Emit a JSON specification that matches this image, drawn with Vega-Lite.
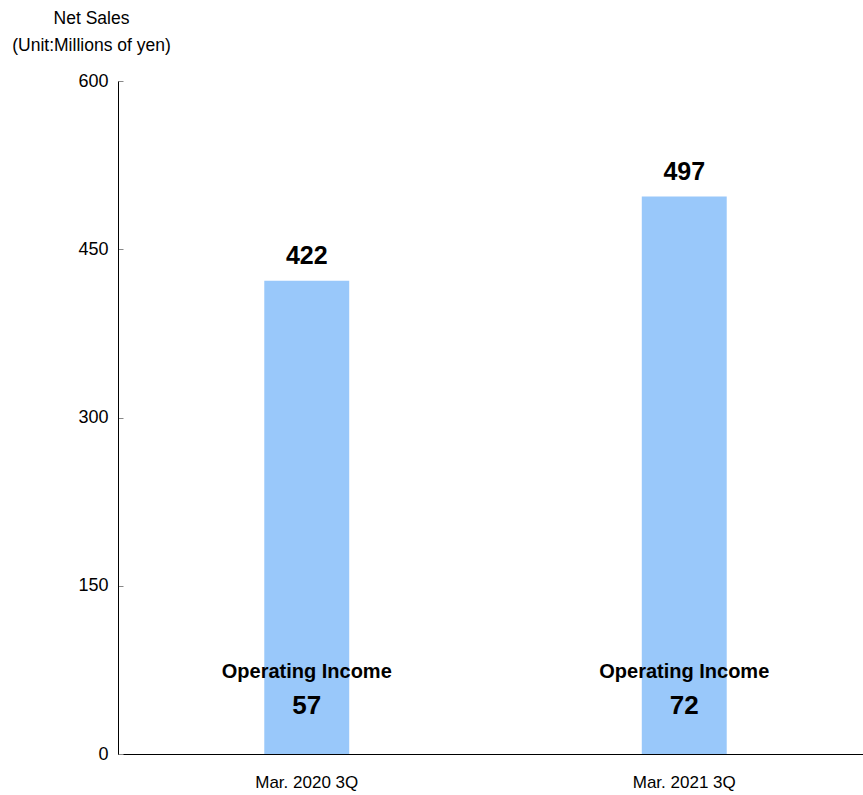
{
  "$schema": "https://vega.github.io/schema/vega-lite/v6.json",
  "width": 745,
  "height": 673,
  "autosize": {"type": "none"},
  "padding": {"left": 118, "top": 81, "right": 0, "bottom": 41},
  "background": "white",
  "config": {
    "font": "Liberation Sans, Arial, sans-serif",
    "view": {"stroke": null}
  },
  "data": {
    "values": [
      {"period": "Mar. 2020 3Q", "sales": 422, "opIncome": 57},
      {"period": "Mar. 2021 3Q", "sales": 497, "opIncome": 72}
    ]
  },
  "encoding": {
    "x": {
      "field": "period",
      "type": "nominal",
      "sort": null,
      "scale": {"range": [0, 755], "paddingInner": 0.775, "paddingOuter": 0.3875},
      "axis": {
        "title": null,
        "labelAngle": 0,
        "ticks": false,
        "domainColor": "black",
        "labelColor": "black",
        "labelFontSize": 17,
        "labelPadding": 20
      }
    }
  },
  "layer": [
    {
      "mark": {"type": "bar", "color": "#99C8FA"},
      "encoding": {
        "y": {
          "field": "sales",
          "type": "quantitative",
          "scale": {"domain": [0, 600]},
          "axis": {
            "values": [0, 150, 300, 450, 600],
            "grid": false,
            "domainColor": "black",
            "tickColor": "#888888",
            "tickSize": -5,
            "labelColor": "black",
            "labelFontSize": 18,
            "labelPadding": 15,
            "title": ["Net Sales", "(Unit:Millions of yen)"],
            "titleAngle": 0,
            "titleAlign": "center",
            "titleBaseline": "top",
            "titleX": -27,
            "titleY": -72,
            "titleFontWeight": "normal",
            "titleFontSize": 17.5,
            "titleLineHeight": 27,
            "titleColor": "black"
          }
        }
      }
    },
    {
      "mark": {"type": "text", "fontSize": 25, "fontWeight": "bold", "baseline": "middle", "dy": -25, "color": "black"},
      "encoding": {
        "y": {"field": "sales", "type": "quantitative"},
        "text": {"field": "sales", "type": "quantitative"}
      }
    },
    {
      "mark": {"type": "text", "fontSize": 20, "fontWeight": "bold", "baseline": "middle", "dy": -82, "color": "black", "text": "Operating Income"},
      "encoding": {
        "y": {"datum": 0}
      }
    },
    {
      "mark": {"type": "text", "fontSize": 26, "fontWeight": "bold", "baseline": "middle", "dy": -48, "color": "black"},
      "encoding": {
        "y": {"datum": 0},
        "text": {"field": "opIncome", "type": "quantitative"}
      }
    }
  ]
}
